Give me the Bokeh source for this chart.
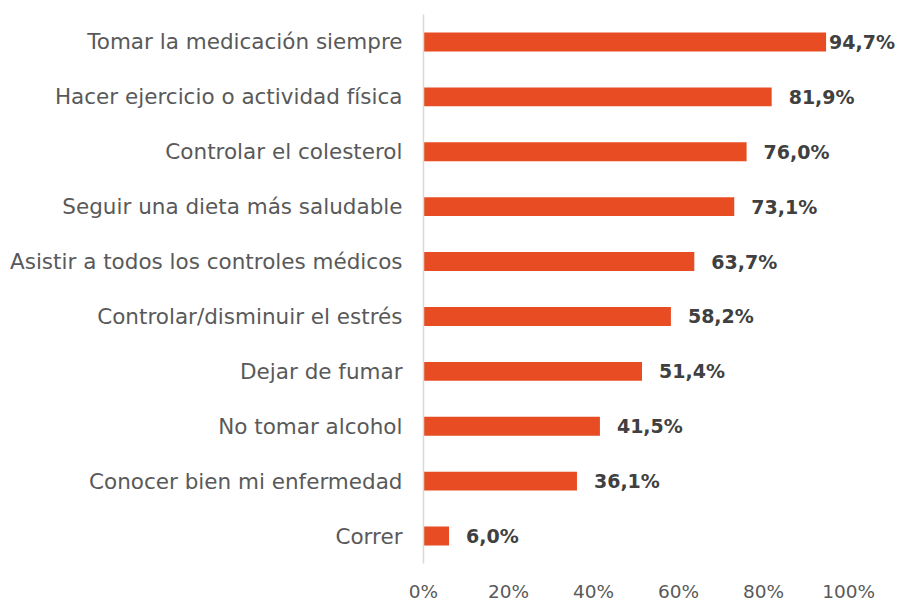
from bokeh.plotting import figure
from bokeh.models import ColumnDataSource, FixedTicker, CustomJSTickFormatter
from bokeh.core.properties import value
from bokeh.embed import file_html
from bokeh.resources import INLINE

categories = [
    "Tomar la medicación siempre",
    "Hacer ejercicio o actividad física",
    "Controlar el colesterol",
    "Seguir una dieta más saludable",
    "Asistir a todos los controles médicos",
    "Controlar/disminuir el estrés",
    "Dejar de fumar",
    "No tomar alcohol",
    "Conocer bien mi enfermedad",
    "Correr",
]
values = [94.7, 81.9, 76.0, 73.1, 63.7, 58.2, 51.4, 41.5, 36.1, 6.0]
tick_values = [0, 20, 40, 60, 80, 100]

labels = [f"{v:.1f}".replace(".", ",") + "%" for v in values]
offsets = [3 if i == 0 else 17 for i in range(len(values))]

src = ColumnDataSource(dict(cat=categories, val=values, lab=labels, off=offsets))

p = figure(
    frame_width=474, frame_height=549,
    y_range=list(reversed(categories)),
    x_range=(0, 111.5),
    output_backend="svg", toolbar_location=None,
    min_border_left=423, min_border_right=0, min_border_top=14, min_border_bottom=0,
)
p.outline_line_color = None
p.grid.grid_line_color = None
p.background_fill_color = "white"
p.border_fill_color = "white"

p.hbar(y="cat", left=0, right="val", height=0.345, source=src,
       fill_color="#E84C22", line_color=None)

p.text(x="val", y="cat", text="lab", source=src, x_offset="off",
       text_font=value("DejaVu Sans"), text_font_style="bold",
       text_font_size="19px", text_color="#404040",
       text_baseline="middle", text_align="left")

# y axis
ya = p.yaxis[0]
ya.axis_line_color = "#D9D9D9"
ya.axis_line_width = 1.5
ya.major_tick_line_color = None
ya.minor_tick_line_color = None
ya.major_tick_out = 0
ya.major_tick_in = 0
ya.major_label_standoff = 21
ya.major_label_text_font = "DejaVu Sans"
ya.major_label_text_font_size = "21.5px"
ya.major_label_text_color = "#595959"

# x axis
xa = p.xaxis[0]
xa.ticker = FixedTicker(ticks=tick_values)
xa.formatter = CustomJSTickFormatter(code="return tick + '%';")
xa.axis_line_color = None
xa.major_tick_line_color = None
xa.minor_tick_line_color = None
xa.major_tick_out = 0
xa.major_tick_in = 0
xa.major_label_standoff = 17
xa.major_label_text_font = "DejaVu Sans"
xa.major_label_text_font_size = "18.5px"
xa.major_label_text_color = "#595959"

open("out.html", "w").write(file_html(p, INLINE))
